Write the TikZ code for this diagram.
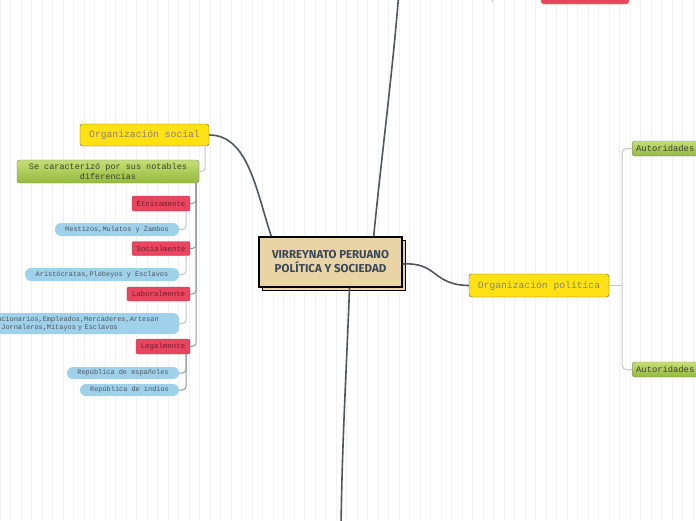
\documentclass[tikz,border=0pt]{standalone}
\usepackage{fontspec}
\setmainfont{Liberation Mono}
\newfontfamily\titlefont{Fira Sans}
\usetikzlibrary{shadows}

\definecolor{mainlink}{HTML}{50565E}
\definecolor{midlink}{HTML}{9297A0}
\definecolor{softlink}{HTML}{C3C7CC}
\definecolor{tan}{HTML}{E9D4A6}
\definecolor{titleink}{HTML}{3B4859}
\definecolor{gold}{HTML}{FFE114}
\definecolor{goldink}{HTML}{8A8466}
\definecolor{leaftop}{HTML}{C6DE78}
\definecolor{leafbot}{HTML}{93BA3C}
\definecolor{leafink}{HTML}{3A4030}
\definecolor{rose}{HTML}{E8455F}
\definecolor{roseink}{HTML}{761C2E}
\definecolor{sky}{HTML}{9FD1EB}
\definecolor{skyink}{HTML}{4C5660}

\begin{document}
\begin{tikzpicture}[x=1pt,y=-1pt,
  every node/.style={inner sep=0pt,align=center},
  mainbox/.style={draw=black,line width=1.4pt,fill=tan,text=titleink,
    minimum width=143,minimum height=50,
    font=\titlefont\bfseries\fontsize{11.5}{14}\selectfont,
    copy shadow={shadow xshift=3.5pt,shadow yshift=-3.5pt}},
  goldbox/.style={draw=black!65,fill=gold,rounded corners=2.5pt,text=goldink,
    font=\fontsize{9.7}{11}\selectfont},
  leafbox/.style={draw=black!50,top color=leaftop,bottom color=leafbot,
    rounded corners=2.5pt,text=leafink},
  rosebox/.style={draw=roseink!80,fill=rose,rounded corners=2pt,text=roseink,
    font=\fontsize{7.4}{9}\selectfont},
  skybox/.style={fill=sky,rounded corners=6pt,text=skyink,
    font=\fontsize{6.9}{8.4}\selectfont},
  mainlink/.style={draw=mainlink,line width=1.6pt},
  midlink/.style={draw=midlink,line width=1pt,rounded corners=4pt},
  softlink/.style={draw=softlink,line width=1pt,rounded corners=4pt}]
  \useasboundingbox (0,0) rectangle (696,520);
  \clip (0,0) rectangle (696,520);
  \draw[black!5,step=10.5] (0,0) grid (696,520);

  % centre
  \node[mainbox] (centro) at (330.5,262) {VIRREYNATO PERUANO\\POLÍTICA Y SOCIEDAD};

  % left branch
  \node[goldbox,minimum width=129,minimum height=22] (social) at (144.5,135) {Organización social};
  \node[leafbox,minimum width=182,minimum height=23,font=\fontsize{8.5}{9.5}\selectfont]
    (rasgos) at (108,171.5) {Se caracterizó por sus notables\\diferencias};

  \node[rosebox,minimum width=58,minimum height=15] (etnia) at (161,203.5) {Étnicamente};
  \node[skybox,minimum width=124,minimum height=13] (mestizos) at (117,229.5) {Mestizos,Mulatos y Zambos};
  \node[rosebox,minimum width=58,minimum height=14] (estamento) at (161,248.5) {Socialmente};
  \node[skybox,minimum width=154,minimum height=13] (aristo) at (102,274.5) {Aristócratas,Plebeyos y Esclavos};
  \node[rosebox,minimum width=63,minimum height=14] (trabajo) at (158.5,294) {Laboralmente};
  \node[skybox,minimum width=196,minimum height=21,text width=184,align=left] (oficios) at (81,323.5)
    {Funcionarios,Empleados,Mercaderes,Artesan\\os,Jornaleros,Mitayos y Esclavos};
  \node[rosebox,minimum width=54,minimum height=15] (ley) at (163,346.5) {Legalmente};
  \node[skybox,minimum width=112,minimum height=12] (espanoles) at (123,373) {República de españoles};
  \node[skybox,minimum width=99,minimum height=12] (indios) at (129.5,390) {República de indios};

  % right branch
  \node[goldbox,minimum width=140,minimum height=23] (politica) at (539,285.5) {Organización política};
  \node[leafbox,anchor=west,minimum height=15,text width=72,align=left,inner xsep=4pt,
    font=\fontsize{8.8}{10}\selectfont] (aut1) at (632,148.5) {Autoridades};
  \node[leafbox,anchor=west,minimum height=15,text width=72,align=left,inner xsep=4pt,
    font=\fontsize{8.8}{10}\selectfont] (aut2) at (632,369.5) {Autoridades};

  % top, cut by the page edge
  \node[fill=rose,draw=orange!70,rounded corners=2.5pt,minimum width=88,minimum height=24] (arriba) at (585,-8) {};
  \coordinate (tickA) at (492,-6);
  \coordinate (tickB) at (492,1.5);
  \coordinate (topend) at (399,-10);
  \coordinate (bottomend) at (341,530);

  % links from the centre
  \draw[mainlink] ([xshift=13pt]centro.north west) .. controls (256,190) and (248,135) .. (social.east);
  \draw[mainlink] ([xshift=-29pt]centro.north east) .. controls (380,170) and (394,60) .. (topend);
  \draw[mainlink] ([yshift=-2pt]centro.east) .. controls (438,262) and (432,285) .. (politica.west);
  \draw[mainlink] ([xshift=19pt]centro.south) .. controls (347,360) and (342,440) .. (bottomend);
  \draw[softlink,rounded corners=0pt] (tickA) -- (tickB);

  % left tree
  \draw[softlink] ([xshift=-4pt]social.south east) |- (rasgos.east);
  \draw[midlink] ([xshift=-3pt]rasgos.south east) |- (etnia.east);
  \draw[midlink] ([xshift=-3pt]rasgos.south east) |- (estamento.east);
  \draw[midlink] ([xshift=-3pt]rasgos.south east) |- (trabajo.east);
  \draw[midlink] ([xshift=-3pt]rasgos.south east) |- (ley.east);
  \draw[softlink] ([xshift=-4pt]etnia.south east) |- (mestizos.east);
  \draw[softlink] ([xshift=-4pt]estamento.south east) |- (aristo.east);
  \draw[softlink] ([xshift=-4pt]trabajo.south east) |- (oficios.east);
  \draw[midlink] ([xshift=-4pt]ley.south east) |- (espanoles.east);
  \draw[midlink] ([xshift=-4pt]ley.south east) |- (indios.east);

  % right tree
  \draw[softlink] (politica.east) -- ++(13,0) coordinate (fork);
  \draw[softlink] (fork) |- (aut1.west);
  \draw[softlink] (fork) |- (aut2.west);
\end{tikzpicture}
\end{document}
